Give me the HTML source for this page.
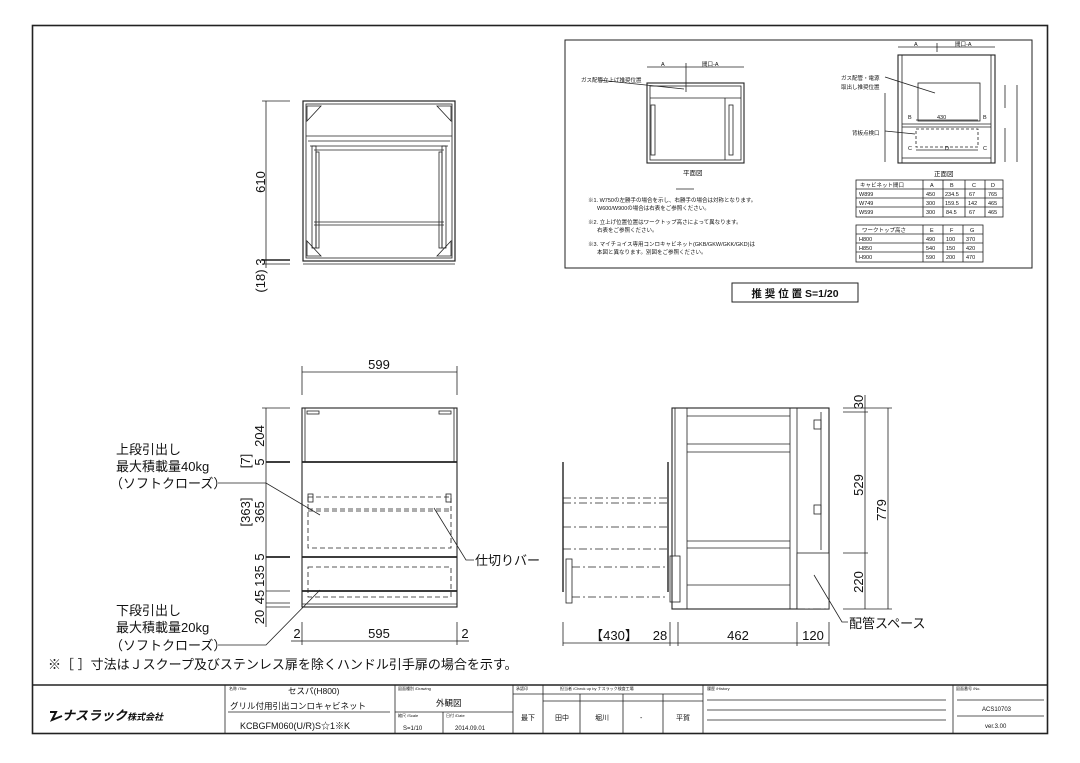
<!DOCTYPE html>
<html><head><meta charset="utf-8"><style>
html,body{margin:0;padding:0;background:#fff}
svg{display:block}
text{font-family:"Liberation Sans","Noto Sans CJK JP",sans-serif;fill:#111}
</style></head><body>
<svg width="1080" height="763" viewBox="0 0 1080 763" xmlns="http://www.w3.org/2000/svg">
<g fill="none" stroke="#222" stroke-width="0.8">
<!-- outer border -->
<rect x="32.5" y="25.5" width="1015" height="708" stroke-width="1.6"/>
<line x1="32" y1="685" x2="1048" y2="685" stroke-width="1.4"/>

<!-- ===== top plan view ===== -->
<rect x="303" y="101" width="152" height="160" stroke-width="1.2"/>
<rect x="306" y="104" width="146" height="154"/>
<line x1="306" y1="136" x2="452" y2="136"/>
<line x1="308" y1="141" x2="450" y2="141"/>
<line x1="310" y1="146" x2="448" y2="146"/>
<line x1="314" y1="150" x2="444" y2="150"/>
<line x1="314" y1="222" x2="444" y2="222"/>
<line x1="314" y1="225" x2="444" y2="225"/>
<rect x="312" y="146" width="4" height="102"/>
<rect x="442" y="146" width="4" height="102"/>
<rect x="316" y="152" width="3" height="96"/>
<rect x="439" y="152" width="3" height="96"/>
<path d="M307 106 L321 106 L307 121 Z M451 106 L437 106 L451 121 Z M307 256 L321 256 L307 241 Z M451 256 L437 256 L451 241 Z"/>
<line x1="303" y1="264" x2="455" y2="264"/>
<line x1="266" y1="101" x2="266" y2="268"/>
<line x1="262" y1="101" x2="290" y2="101"/>
<line x1="262" y1="260" x2="290" y2="260" stroke-width="1.4"/>
<line x1="262" y1="264" x2="290" y2="264"/>

<!-- ===== front elevation ===== -->
<rect x="302" y="408" width="155" height="199" stroke-width="1.1"/>
<line x1="305" y1="408" x2="305" y2="462"/><line x1="454" y1="408" x2="454" y2="462"/>
<line x1="302" y1="462" x2="457" y2="462" stroke-width="1.8"/>
<line x1="302" y1="557" x2="457" y2="557" stroke-width="1.8"/>
<line x1="302" y1="591" x2="457" y2="591" stroke-width="1.8"/>
<line x1="302" y1="604" x2="457" y2="604"/>
<rect x="307" y="411" width="12" height="3"/><rect x="439" y="411" width="12" height="3"/>
<g stroke-dasharray="5,3">
<rect x="308" y="497" width="143" height="51"/>
<line x1="308" y1="509" x2="451" y2="509"/><line x1="308" y1="511" x2="451" y2="511"/>
<rect x="308" y="567" width="143" height="30"/>
</g>
<rect x="308" y="494" width="5" height="8"/><rect x="446" y="494" width="5" height="8"/>
<line x1="302" y1="372" x2="457" y2="372"/>
<line x1="302" y1="366" x2="302" y2="395"/><line x1="457" y1="366" x2="457" y2="395"/>
<line x1="302" y1="641" x2="457" y2="641"/>
<line x1="302" y1="622" x2="302" y2="645"/><line x1="457" y1="622" x2="457" y2="645"/>
<line x1="291" y1="641" x2="302" y2="641"/><line x1="457" y1="641" x2="469" y2="641"/>
<line x1="266" y1="408" x2="266" y2="627"/>
<line x1="262" y1="408" x2="290" y2="408"/>
<line x1="266" y1="462" x2="290" y2="462" stroke-width="1.8"/>
<line x1="266" y1="557" x2="290" y2="557" stroke-width="1.8"/>
<line x1="266" y1="591" x2="290" y2="591"/>
<line x1="266" y1="603" x2="290" y2="603"/>
<line x1="266" y1="607" x2="290" y2="607"/>
<!-- leaders -->
<polyline points="218,483 266,483 320,515"/>
<polyline points="218,645 266,645 320,590"/>
<polyline points="434,508 466,560 474,560"/>

<!-- ===== side elevation ===== -->
<rect x="672" y="408" width="157" height="201" stroke-width="1.1"/>
<line x1="675" y1="408" x2="675" y2="556"/>
<line x1="687" y1="408" x2="687" y2="609"/>
<line x1="790" y1="408" x2="790" y2="609"/>
<line x1="797" y1="408" x2="797" y2="609"/>
<line x1="821" y1="412" x2="821" y2="550"/>
<line x1="687" y1="416" x2="790" y2="416"/>
<line x1="687" y1="444" x2="790" y2="444"/>
<line x1="687" y1="452" x2="790" y2="452"/>
<line x1="687" y1="541" x2="790" y2="541"/>
<line x1="687" y1="548" x2="790" y2="548"/>
<line x1="687" y1="585" x2="790" y2="585"/>
<rect x="797" y="553" width="32" height="56" fill="#fff"/>
<rect x="814" y="420" width="7" height="9"/><rect x="814" y="505" width="7" height="9"/>
<line x1="563" y1="462" x2="563" y2="592" stroke-width="1.4"/>
<line x1="668" y1="462" x2="668" y2="592" stroke-width="1.4"/>
<rect x="566" y="559" width="6" height="44"/>
<rect x="670" y="556" width="10" height="46"/>
<g stroke-dasharray="8,3,2,3">
<line x1="563" y1="498" x2="668" y2="498"/><line x1="563" y1="503" x2="668" y2="503"/>
<line x1="563" y1="527" x2="668" y2="527"/><line x1="563" y1="549" x2="668" y2="549"/>
<line x1="572" y1="567" x2="668" y2="567"/><line x1="572" y1="597" x2="668" y2="597"/>
<line x1="797" y1="609" x2="829" y2="609"/>
</g>
<line x1="563" y1="643" x2="829" y2="643"/>
<line x1="563" y1="622" x2="563" y2="646"/><line x1="670" y1="622" x2="670" y2="646"/>
<line x1="678" y1="622" x2="678" y2="646"/><line x1="797" y1="622" x2="797" y2="646"/>
<line x1="829" y1="622" x2="829" y2="646"/>
<line x1="865" y1="395" x2="865" y2="609"/>
<line x1="888" y1="408" x2="888" y2="609"/>
<line x1="843" y1="408" x2="892" y2="408"/>
<line x1="843" y1="412" x2="868" y2="412"/>
<line x1="843" y1="553" x2="868" y2="553"/>
<line x1="843" y1="609" x2="892" y2="609"/>
<polyline points="814,575 842,622 848,622"/>

<!-- ===== inset ===== -->
<rect x="565" y="40" width="467" height="228" stroke-width="1"/>
<rect x="647" y="83" width="97" height="80" stroke-width="1.1"/>
<rect x="650" y="86" width="91" height="74"/>
<line x1="650" y1="98" x2="741" y2="98"/>
<line x1="725" y1="98" x2="725" y2="160"/>
<rect x="729" y="105" width="4" height="50"/>
<rect x="651" y="105" width="4" height="50"/>
<line x1="647" y1="67" x2="744" y2="67"/>
<line x1="686" y1="63" x2="686" y2="92"/>
<line x1="598" y1="80" x2="684" y2="89"/>
<line x1="676" y1="189" x2="694" y2="189"/>
<rect x="898" y="55" width="97" height="108" stroke-width="1.1"/>
<line x1="902" y1="55" x2="902" y2="163"/><line x1="991" y1="55" x2="991" y2="163"/>
<rect x="918" y="83" width="62" height="38"/>
<line x1="902" y1="124" x2="991" y2="124"/><line x1="902" y1="127" x2="991" y2="127"/>
<rect x="916" y="129" width="62" height="18" stroke-dasharray="3,2"/>
<line x1="902" y1="158" x2="991" y2="158"/>
<line x1="898" y1="47" x2="995" y2="47"/>
<line x1="937" y1="43" x2="937" y2="52"/>
<line x1="885" y1="77" x2="935" y2="93"/>
<line x1="885" y1="131" x2="915" y2="134"/>
<line x1="885" y1="93" x2="885" y2="162"/>
<line x1="1005" y1="85" x2="1005" y2="108"/>
<line x1="1005" y1="128" x2="1005" y2="162"/>
<line x1="1017" y1="85" x2="1017" y2="162"/>
<line x1="916" y1="120" x2="978" y2="120"/>
<line x1="916" y1="150" x2="978" y2="150"/>
<line x1="934" y1="180" x2="952" y2="180"/>
<!-- tables -->
<rect x="856" y="180" width="147" height="37"/>
<line x1="856" y1="189" x2="1003" y2="189"/><line x1="856" y1="198" x2="1003" y2="198"/><line x1="856" y1="207" x2="1003" y2="207"/>
<line x1="923" y1="180" x2="923" y2="217"/><line x1="943" y1="180" x2="943" y2="217"/><line x1="965" y1="180" x2="965" y2="217"/><line x1="985" y1="180" x2="985" y2="217"/>
<rect x="856" y="225" width="127" height="37"/>
<line x1="856" y1="234" x2="983" y2="234"/><line x1="856" y1="243" x2="983" y2="243"/><line x1="856" y1="252" x2="983" y2="252"/>
<line x1="923" y1="225" x2="923" y2="262"/><line x1="943" y1="225" x2="943" y2="262"/><line x1="963" y1="225" x2="963" y2="262"/>
<rect x="732" y="283" width="126" height="19" stroke-width="1"/>

<!-- ===== title block ===== -->
<line x1="225" y1="685" x2="225" y2="733"/>
<line x1="395" y1="685" x2="395" y2="733"/>
<line x1="513" y1="685" x2="513" y2="733"/>
<line x1="543" y1="685" x2="543" y2="733"/>
<line x1="703" y1="685" x2="703" y2="733"/>
<line x1="953" y1="685" x2="953" y2="733"/>
<line x1="228" y1="712" x2="390" y2="712"/>
<line x1="395" y1="712" x2="513" y2="712"/>
<line x1="443" y1="712" x2="443" y2="733"/>
<line x1="513" y1="694" x2="543" y2="694"/>
<line x1="543" y1="694" x2="703" y2="694"/>
<line x1="543" y1="701" x2="703" y2="701"/>
<line x1="580" y1="694" x2="580" y2="733"/>
<line x1="623" y1="694" x2="623" y2="733"/>
<line x1="663" y1="694" x2="663" y2="733"/>
<line x1="707" y1="700" x2="946" y2="700"/>
<line x1="707" y1="710" x2="946" y2="710"/>
<line x1="707" y1="720" x2="946" y2="720"/>
<line x1="957" y1="700" x2="1044" y2="700"/>
<line x1="957" y1="716" x2="1044" y2="716"/>
</g>

<!-- ===== text ===== -->
<g font-size="13">
<text transform="translate(265,182) rotate(-90)" text-anchor="middle">610</text>
<text transform="translate(265,262) rotate(-90)" text-anchor="middle">3</text>
<text transform="translate(265,281) rotate(-90)" text-anchor="middle">(18)</text>
<text x="379" y="369" text-anchor="middle">599</text>
<text x="379" y="638" text-anchor="middle">595</text>
<text x="297" y="638" text-anchor="middle">2</text>
<text x="465" y="638" text-anchor="middle">2</text>
<text transform="translate(264,436) rotate(-90)" text-anchor="middle">204</text>
<text transform="translate(250,461) rotate(-90)" text-anchor="middle">[7]</text>
<text transform="translate(264,462) rotate(-90)" text-anchor="middle">5</text>
<text transform="translate(250,512) rotate(-90)" text-anchor="middle">[363]</text>
<text transform="translate(264,512) rotate(-90)" text-anchor="middle">365</text>
<text transform="translate(264,557) rotate(-90)" text-anchor="middle">5</text>
<text transform="translate(264,576) rotate(-90)" text-anchor="middle">135</text>
<text transform="translate(264,597) rotate(-90)" text-anchor="middle">45</text>
<text transform="translate(264,617) rotate(-90)" text-anchor="middle">20</text>
<text x="116" y="454">上段引出し</text>
<text x="116" y="471">最大積載量40kg</text>
<text x="110" y="488">（ソフトクローズ）</text>
<text x="475" y="565">仕切りバー</text>
<text x="116" y="615">下段引出し</text>
<text x="116" y="632">最大積載量20kg</text>
<text x="110" y="650">（ソフトクローズ）</text>
<text x="863" y="402" transform="rotate(-90 863 402)" text-anchor="middle" dy="0">30</text>
<text transform="translate(863,485) rotate(-90)" text-anchor="middle">529</text>
<text transform="translate(863,582) rotate(-90)" text-anchor="middle">220</text>
<text transform="translate(886,510) rotate(-90)" text-anchor="middle">779</text>
<text x="614" y="640" text-anchor="middle">【430】</text>
<text x="660" y="640" text-anchor="middle">28</text>
<text x="738" y="640" text-anchor="middle">462</text>
<text x="813" y="640" text-anchor="middle">120</text>
<text x="849" y="628">配管スペース</text>
<text x="48" y="669">※［ ］寸法はＪスクープ及びステンレス扉を除くハンドル引手扉の場合を示す。</text>
</g>
<g font-size="5.5">
<text x="661" y="66">A</text><text x="702" y="66">間口-A</text>
<text x="581" y="82">ガス配管立上げ推奨位置</text>
<text x="683" y="175" font-size="6.5">平面図</text>
<text x="588" y="202">※1. W750の左勝手の場合を示し、右勝手の場合は対称となります。</text>
<text x="597" y="210">W600/W900の場合は右表をご参照ください。</text>
<text x="588" y="224">※2. 立上げ位置位置はワークトップ高さによって異なります。</text>
<text x="597" y="232">右表をご参照ください。</text>
<text x="588" y="246">※3. マイチョイス専用コンロキャビネット(GKB/GKW/GKK/GKD)は</text>
<text x="597" y="254">本図と異なります。別図をご参照ください。</text>
<text x="914" y="46">A</text><text x="955" y="46">間口-A</text>
<text x="841" y="80">ガス配管・電源</text>
<text x="841" y="89">取出し推奨位置</text>
<text x="852" y="135">背板点検口</text>
<text x="937" y="119">430</text>
<text x="908" y="119">B</text><text x="983" y="119">B</text>
<text x="908" y="150">C</text><text x="983" y="150">C</text>
<text x="945" y="150">D</text>
<text x="934" y="176" font-size="6.5">正面図</text>
<text x="860" y="187">キャビネット間口</text><text x="930" y="187">A</text><text x="950" y="187">B</text><text x="972" y="187">C</text><text x="991" y="187">D</text>
<text x="859" y="196">W899</text><text x="926" y="196">450</text><text x="945" y="196">234.5</text><text x="969" y="196">67</text><text x="988" y="196">765</text>
<text x="859" y="205">W749</text><text x="926" y="205">300</text><text x="945" y="205">159.5</text><text x="968" y="205">142</text><text x="988" y="205">465</text>
<text x="859" y="214">W599</text><text x="926" y="214">300</text><text x="946" y="214">84.5</text><text x="969" y="214">67</text><text x="988" y="214">465</text>
<text x="862" y="232">ワークトップ高さ</text><text x="930" y="232">E</text><text x="950" y="232">F</text><text x="970" y="232">G</text>
<text x="859" y="241">H800</text><text x="926" y="241">490</text><text x="946" y="241">100</text><text x="966" y="241">370</text>
<text x="859" y="250">H850</text><text x="926" y="250">540</text><text x="946" y="250">150</text><text x="966" y="250">420</text>
<text x="859" y="259">H900</text><text x="926" y="259">590</text><text x="946" y="259">200</text><text x="966" y="259">470</text>
</g>
<text x="795" y="297" font-size="10.5" text-anchor="middle" font-weight="bold">推 奨 位 置  S=1/20</text>

<!-- title block text -->
<g font-size="4">
<text x="229" y="690">名称 /Title</text>
<text x="398" y="690">図面種別 /Drawing</text>
<text x="516" y="690">承認印</text>
<text x="560" y="690">担当者 /Check up by ナスラック検査工場</text>
<text x="707" y="690">履歴 /History</text>
<text x="956" y="690">図面番号 /No.</text>
<text x="398" y="717">縮尺 /Scale</text>
<text x="446" y="717">日付 /Date</text>
</g>
<g font-size="8.5">
<text x="288" y="694">セスパ(H800)</text>
<text x="230" y="709">グリル付用引出コンロキャビネット</text>
<text x="240" y="729" font-size="9">KCBGFM060(U/R)S☆1※K</text>
<text x="436" y="706">外観図</text>
<text x="403" y="730" font-size="6">S=1/10</text>
<text x="455" y="730" font-size="6">2014.09.01</text>
<text x="521" y="720" font-size="7">最下</text>
<text x="555" y="720" font-size="7">田中</text>
<text x="595" y="720" font-size="7">堀川</text>
<text x="640" y="720" font-size="7">-</text>
<text x="676" y="720" font-size="7">平賀</text>
<text x="982" y="711" font-size="6">ACS10703</text>
<text x="985" y="728" font-size="6">ver.3.00</text>
</g>
<text x="62" y="720" font-size="13" font-weight="bold" font-style="italic">ナスラック<tspan font-size="9">株式会社</tspan></text>
<path d="M50 712 L56 712 L52 720 L62 716" fill="none" stroke="#111" stroke-width="2"/>
</svg>
</body></html>
